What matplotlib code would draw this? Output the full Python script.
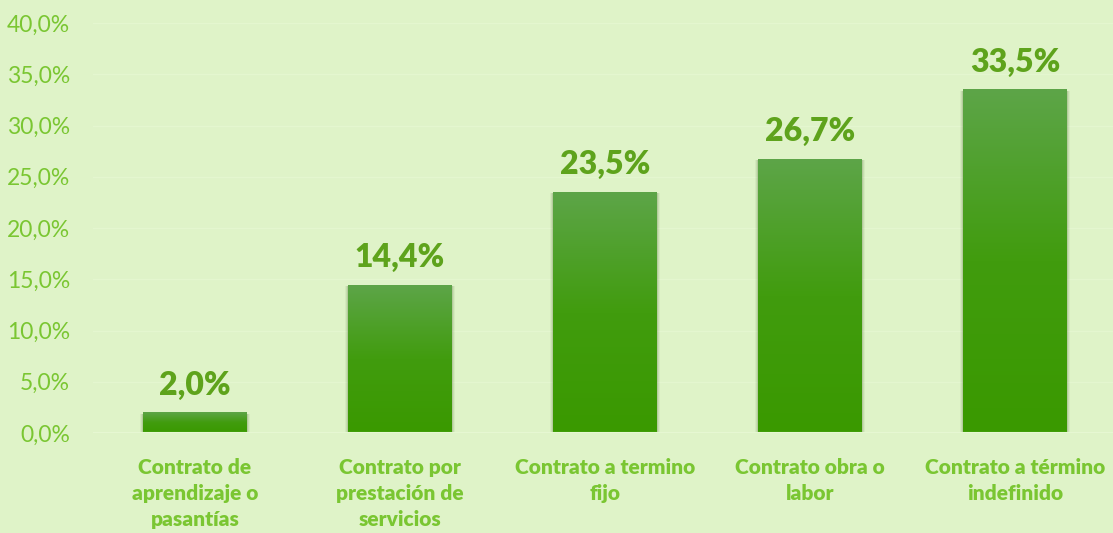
import matplotlib.pyplot as plt
import numpy as np
from matplotlib.colors import LinearSegmentedColormap

categorias = ["Contrato de\naprendizaje o\npasantías",
              "Contrato por\nprestación de\nservicios",
              "Contrato a termino\nfijo",
              "Contrato obra o\nlabor",
              "Contrato a término\nindefinido"]
valores = [2.0, 14.4, 23.5, 26.7, 33.5]
y_ticks = [0, 5, 10, 15, 20, 25, 30, 35, 40]

fondo = "#DFF3C8"
verde_ejes = "#7AC632"
verde_etiqueta = "#5EA31C"

plt.rcParams['font.family'] = ['Lato', 'DejaVu Sans']

fig = plt.figure(figsize=(11.13, 5.33), dpi=100, facecolor=fondo)
ax = fig.add_axes([92.5 / 1113, 100 / 533, 1025 / 1113, 410 / 533])
ax.set_facecolor(fondo)

# gridlines muy tenues
for t in y_ticks:
    ax.axhline(t, color="#E4F6CF", lw=1.0, zorder=0)

ancho = 0.507
# gradiente de cada barra (claro arriba, oscuro abajo)
grad = np.linspace(0, 1, 256).reshape(-1, 1)
cmap = LinearSegmentedColormap.from_list("g", ["#3A9900", "#419C0E", "#5DA548"])

for i, v in enumerate(valores):
    x0 = i - ancho / 2
    # sombra suave a los lados
    for k, a in [(0.016, 0.05), (0.010, 0.08), (0.005, 0.12)]:
        ax.add_patch(plt.Rectangle((x0 - k, 0), ancho + 2 * k, v - 0.1,
                                   color="#2E4A10", alpha=a, lw=0, zorder=1))
    ax.add_patch(plt.Rectangle((x0, 0), ancho, v, color="#4A9E25", lw=0, zorder=1.5))
    ax.imshow(grad, extent=[x0, x0 + ancho, 0, v], origin="lower",
              cmap=cmap, aspect="auto", zorder=2, interpolation="bilinear")
    ax.annotate(f"{v:.1f}%".replace(".", ","), (i, v), xytext=(0, 13),
                textcoords="offset points", ha="center", va="baseline",
                fontsize=23, fontweight="heavy", color=verde_etiqueta)

ax.set_xlim(-0.5, 4.5)
ax.set_ylim(0, 40)

ax.set_yticks(y_ticks)
ax.set_yticklabels([f"{t:.1f}%".replace(".", ",") for t in y_ticks])
ax.set_xticks(range(len(categorias)))
ax.set_xticklabels(categorias, fontweight="heavy", linespacing=1.45)
ax.tick_params(axis="y", length=0, pad=16, labelsize=16.5, labelcolor=verde_ejes)
ax.tick_params(axis="x", length=0, pad=18, labelsize=15, labelcolor=verde_ejes)

for s in ax.spines.values():
    s.set_visible(False)
ax.axhline(0, color="#E6F7D2", lw=1.5, zorder=3)

fig.savefig("out.png", dpi=100, facecolor=fondo)
